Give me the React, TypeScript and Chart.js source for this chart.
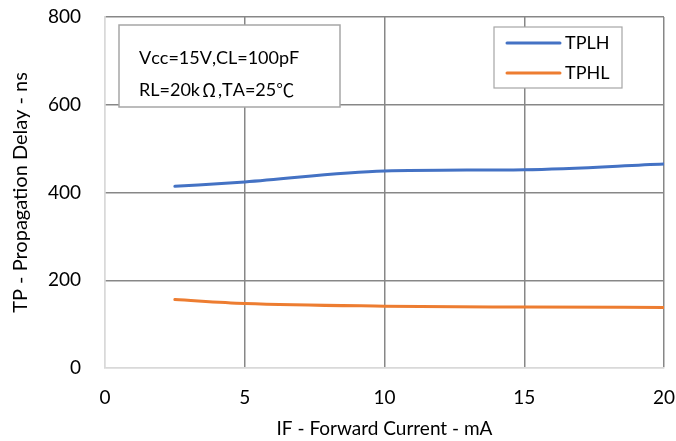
import React, { useEffect, useRef } from "react";
import { Chart, registerables } from "chart.js";

Chart.register(...registerables);

const currentMA = [2.5, 5, 10, 15, 20];
const tplh = [414, 424, 449, 452, 465];
const tphl = [156, 147, 141, 139, 138];
const seriesNames = ["TPLH", "TPHL"];
const seriesColors = ["#4472C4", "#ED7D31"];
const noteLines = ["Vcc=15V,CL=100pF", "RL=20k\u03A9,TA=25\u2103"];
const xTitle = "IF - Forward Current - mA";
const yTitle = "TP - Propagation Delay - ns";

const FONT = "Lato, 'Liberation Sans', sans-serif";
const CJK = "'Noto Sans CJK SC', sans-serif";
const GRID = "#878787";
const AXIS = "#d9d9d9";

function drawMixed(ctx: CanvasRenderingContext2D, text: string, x: number, y: number, size: number) {
  let cx = x;
  for (const ch of Array.from(text)) {
    const wide = ch === "\u03A9" || ch === "\u2103";
    if (wide) {
      ctx.font = `${size}px ${CJK}`;
      const w = ctx.measureText(ch).width;
      const adv = Math.max(w, size);
      ctx.fillText(ch, cx + (adv - w) / 2, y);
      cx += adv;
    } else {
      ctx.font = `${size}px ${FONT}`;
      ctx.fillText(ch, cx, y);
      cx += ctx.measureText(ch).width;
    }
  }
}

const overlayPlugin = {
  id: "overlay",
  afterDraw(chart: any) {
    const ctx = chart.ctx as CanvasRenderingContext2D;
    ctx.save();
    // note box
    ctx.fillStyle = "#ffffff";
    ctx.fillRect(119, 25, 221, 82);
    ctx.strokeStyle = "#a6a6a6";
    ctx.lineWidth = 1.5;
    ctx.strokeRect(119, 25, 221, 82);
    ctx.fillStyle = "#000000";
    ctx.textBaseline = "middle";
    ctx.textAlign = "left";
    drawMixed(ctx, noteLines[0], 139, 58, 18);
    drawMixed(ctx, noteLines[1], 139, 90, 18);
    // legend box
    ctx.fillStyle = "#ffffff";
    ctx.fillRect(494, 27, 128, 61);
    ctx.strokeStyle = "#a6a6a6";
    ctx.lineWidth = 1.2;
    ctx.strokeRect(494, 27, 128, 61);
    const ys = [43, 73];
    seriesNames.forEach((n, i) => {
      ctx.strokeStyle = seriesColors[i];
      ctx.lineWidth = 3;
      ctx.lineCap = "round";
      ctx.beginPath();
      ctx.moveTo(507, ys[i]);
      ctx.lineTo(560, ys[i]);
      ctx.stroke();
      ctx.fillStyle = "#000000";
      ctx.font = "18px " + FONT;
      ctx.fillText(n, 565, ys[i]);
    });
    ctx.restore();
  },
};

const gridColor = (c: any) => (c.tick && c.tick.value === 0 ? AXIS : GRID);

export default function App() {
  const ref = useRef<HTMLCanvasElement>(null);
  useEffect(() => {
    document.body.style.margin = "0";
    const chart = new Chart(ref.current!, {
      type: "scatter",
      data: {
        datasets: [
          {
            label: seriesNames[0],
            data: currentMA.map((x, i) => ({ x, y: tplh[i] })),
            showLine: true,
            borderColor: seriesColors[0],
            backgroundColor: seriesColors[0],
            borderWidth: 3,
            pointRadius: 0,
            cubicInterpolationMode: "monotone",
            borderCapStyle: "round",
          },
          {
            label: seriesNames[1],
            data: currentMA.map((x, i) => ({ x, y: tphl[i] })),
            showLine: true,
            borderColor: seriesColors[1],
            backgroundColor: seriesColors[1],
            borderWidth: 3,
            pointRadius: 0,
            cubicInterpolationMode: "monotone",
            borderCapStyle: "round",
          },
        ],
      },
      options: {
        animation: false,
        responsive: false,
        layout: { padding: { top: 17, right: 12, left: 0, bottom: 0 } },
        plugins: { legend: { display: false }, tooltip: { enabled: false } },
        scales: {
          x: {
            type: "linear",
            min: 0,
            max: 20,
            ticks: { stepSize: 5, padding: 18, color: "#000", font: { family: FONT, size: 19 } },
            grid: { drawTicks: false, color: gridColor, lineWidth: 1.5 },
            border: { display: true, color: AXIS, width: 1.5 },
            title: { display: true, text: xTitle, color: "#000", font: { family: FONT, size: 19 }, padding: { top: 12, bottom: 1 } },
            afterFit: (s: any) => { s.height = 73; s.paddingLeft = 0; s.paddingRight = 0; },
          },
          y: {
            min: 0,
            max: 800,
            ticks: { stepSize: 200, padding: 24, color: "#000", font: { family: FONT, size: 19 } },
            grid: { drawTicks: false, color: gridColor, lineWidth: 1.5 },
            border: { display: true, color: AXIS, width: 1.5 },
            title: { display: true, text: yTitle, color: "#000", font: { family: FONT, size: 20 }, padding: { top: 9, bottom: 0 } },
            afterFit: (s: any) => { s.width = 105; s.paddingTop = 0; s.paddingBottom = 0; },
          },
        },
      },
      plugins: [overlayPlugin],
    });
    return () => chart.destroy();
  }, []);
  return (
    <div style={{ width: 676, height: 441, background: "#fff" }}>
      <canvas ref={ref} width={676} height={441} />
    </div>
  );
}
